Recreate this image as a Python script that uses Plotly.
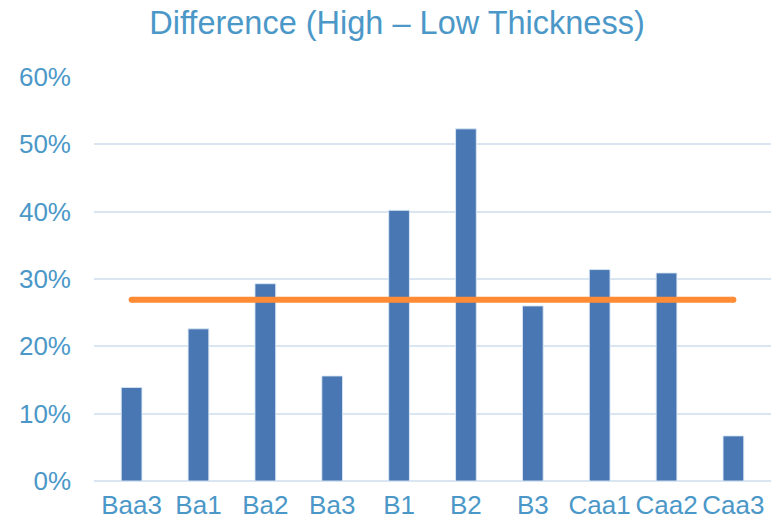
import plotly.graph_objects as go

categories = ["Baa3", "Ba1", "Ba2", "Ba3", "B1", "B2", "B3", "Caa1", "Caa2", "Caa3"]
difference = [0.139, 0.226, 0.293, 0.156, 0.402, 0.523, 0.260, 0.314, 0.309, 0.067]
average = [0.269, 0.269, 0.269, 0.269, 0.269, 0.269, 0.269, 0.269, 0.269, 0.269]
y_ticks = [0, 0.1, 0.2, 0.3, 0.4, 0.5, 0.6]
y_tick_labels = ["0%", "10%", "20%", "30%", "40%", "50%", "60%"]

text_color = "#4B98C8"
bar_color = "#4877B3"
line_color = "#FF8C35"
grid_color = "#D9E5F1"
font_family = "Liberation Sans, Arial, sans-serif"

fig = go.Figure()
fig.add_trace(go.Bar(
    x=categories, y=difference, width=0.31,
    marker=dict(color=bar_color, line=dict(color="rgba(220,232,245,0.9)", width=1)),
    showlegend=False,
))
fig.add_trace(go.Scatter(
    x=categories, y=average, mode="lines",
    line=dict(color=line_color, width=6),
    showlegend=False,
))
fig.add_trace(go.Scatter(
    x=[categories[0], categories[-1]], y=[average[0], average[-1]], mode="markers",
    marker=dict(color=line_color, size=6, line=dict(width=0)),
    showlegend=False,
))

W, H = 774, 526
fig.update_layout(
    width=W, height=H,
    margin=dict(l=94, r=3, t=77, b=45, autoexpand=False),
    paper_bgcolor="white", plot_bgcolor="white",
    font=dict(family=font_family, color=text_color, size=26),
    title=dict(text="Difference (High – Low Thickness)", x=397 / W, xref="container", xanchor="center",
               y=1 - 23 / H, yref="container", yanchor="middle",
               font=dict(size=32.5, color=text_color, family=font_family)),
    bargap=0.69,
    xaxis=dict(showgrid=False, showline=False, ticks="", tickfont=dict(size=26, color=text_color),
               ticklabelstandoff=6, automargin=False),
    yaxis=dict(range=[0, 0.6], tickvals=y_ticks, ticktext=y_tick_labels,
               showgrid=True, gridcolor=grid_color, gridwidth=2,
               zeroline=True, zerolinecolor=grid_color, zerolinewidth=2,
               showline=False, ticks="", tickfont=dict(size=26, color=text_color),
               ticklabelstandoff=22, automargin=False),
)

fig.write_html("out.html", config={"displayModeBar": False},
               post_script="document.body.style.margin='0';")
